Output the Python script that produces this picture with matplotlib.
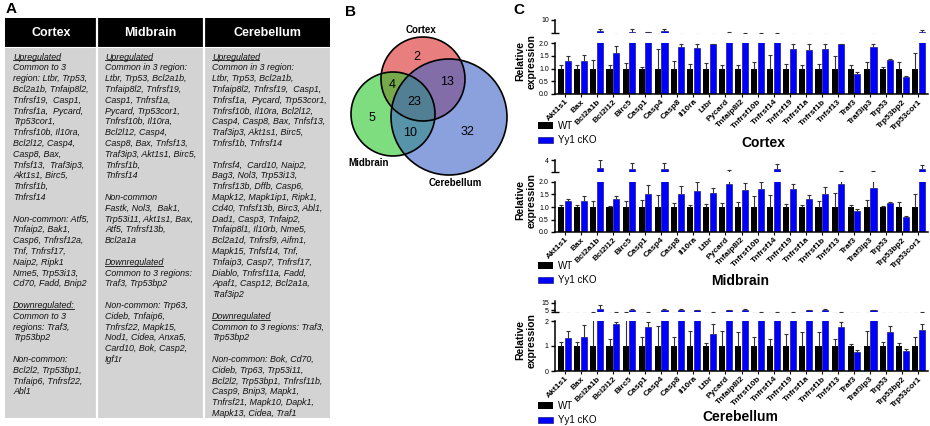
import numpy as np
import matplotlib
matplotlib.use('Agg')
import matplotlib.pyplot as plt
from matplotlib.patches import Circle, Rectangle, Patch

plt.rcParams['font.family'] = ['Liberation Sans', 'DejaVu Sans']

W, H = 930, 426

# ── Panel A: table text ──────────────────────────────────────────────────────
table_headers = ['Cortex', 'Midbrain', 'Cerebellum']

cortex_lines = [
    '_Upregulated', 'Common to 3', 'region: Ltbr, Trp53,', 'Bcl2a1b, Tnfaip8l2,',
    'Tnfrsf19,  Casp1,', 'Tnfrsf1a,  Pycard,', 'Trp53cor1,', 'Tnfrsf10b, Il10ra,',
    'Bcl2l12, Casp4,', 'Casp8, Bax,', 'Tnfsf13,  Traf3ip3,', 'Akt1s1, Birc5,',
    'Tnfrsf1b,', 'Tnfrsf14', '', 'Non-common: Atf5,', 'Tnfaip2, Bak1,',
    'Casp6, Tnfrsf12a,', 'Tnf, Tnfrsf17,', 'Naip2, Ripk1', 'Nme5, Trp53i13,',
    'Cd70, Fadd, Bnip2', '', '_Downregulated:', 'Common to 3', 'regions: Traf3,',
    'Trp53bp2', '', 'Non-common:', 'Bcl2l2, Trp53bp1,', 'Tnfaip6, Tnfrsf22,', 'Abl1',
]
midbrain_lines = [
    '_Upregulated', 'Common in 3 region:', 'Ltbr, Trp53, Bcl2a1b,', 'Tnfaip8l2, Tnfrsf19,',
    'Casp1, Tnfrsf1a,', 'Pycard, Trp53cor1,', 'Tnfrsf10b, Il10ra,', 'Bcl2l12, Casp4,',
    'Casp8, Bax, Tnfsf13,', 'Traf3ip3, Akt1s1, Birc5,', 'Tnfrsf1b,', 'Tnfrsf14', '',
    'Non-common', 'Fastk, Nol3,  Bak1,', 'Trp53i11, Akt1s1, Bax,', 'Atf5, Tnfrsf13b,',
    'Bcl2a1a', '', '_Downregulated', 'Common to 3 regions:', 'Traf3, Trp53bp2', '',
    'Non-common: Trp63,', 'Cideb, Tnfaip6,', 'Tnfrsf22, Mapk15,', 'Nod1, Cidea, Anxa5,',
    'Card10, Bok, Casp2,', 'Igf1r',
]
cerebellum_lines = [
    '_Upregulated', 'Common in 3 region:', 'Ltbr, Trp53, Bcl2a1b,',
    'Tnfaip8l2, Tnfrsf19,  Casp1,', 'Tnfrsf1a,  Pycard, Trp53cor1,',
    'Tnfrsf10b, Il10ra, Bcl2l12,', 'Casp4, Casp8, Bax, Tnfsf13,',
    'Traf3ip3, Akt1s1, Birc5,', 'Tnfrsf1b, Tnfrsf14', '',
    'Tnfrsf4,  Card10, Naip2,', 'Bag3, Nol3, Trp53i13,', 'Tnfrsf13b, Dffb, Casp6,',
    'Mapk12, Mapk1ip1, Ripk1,', 'Cd40, Tnfsf13b, Birc3, Abl1,', 'Dad1, Casp3, Tnfaip2,',
    'Tnfaip8l1, Il10rb, Nme5,', 'Bcl2a1d, Tnfrsf9, Aifm1,', 'Mapk15, Tnfsf14, Tnf,',
    'Tnfaip3, Casp7, Tnfrsf17,', 'Diablo, Tnfrsf11a, Fadd,', 'Apaf1, Casp12, Bcl2a1a,',
    'Traf3ip2', '', '_Downregulated', 'Common to 3 regions: Traf3,', 'Trp53bp2', '',
    'Non-common: Bok, Cd70,', 'Cideb, Trp63, Trp53i11,', 'Bcl2l2, Trp53bp1, Tnfrsf11b,',
    'Casp9, Bnip3, Mapk1,', 'Tnfrsf21, Mapk10, Dapk1,', 'Mapk13, Cidea, Traf1',
]

# ── Panel B: Venn counts ─────────────────────────────────────────────────────
venn_sets = ['Cortex', 'Midbrain', 'Cerebellum']
venn_regions = ['C', 'M', 'B', 'CM', 'CB', 'MB', 'CMB']
venn_counts = [2, 5, 32, 4, 13, 10, 23]

# ── Panel C: qPCR relative expression ────────────────────────────────────────
genes = ['Akt1s1', 'Bax', 'Bcl2a1b', 'Bcl2l12', 'Birc5', 'Casp1', 'Casp4', 'Casp8',
         'Il10ra', 'Ltbr', 'Pycard', 'Tnfaip8l2', 'Tnfrsf10b', 'Tnfrsf14', 'Tnfrsf19',
         'Tnfrsf1a', 'Tnfrsf1b', 'Tnfsf13', 'Traf3', 'Traf3ip3', 'Trp53', 'Trp53bp2',
         'Trp53cor1']

cortex_wt = [1.0, 1.0, 1.0, 1.0, 1.0, 1.0, 1.0, 1.0, 1.0, 1.0, 1.0, 1.0,
             1.0, 1.0, 1.0, 1.0, 1.0, 1.0, 1.0, 1.0, 1.0, 1.0, 1.0]
cortex_wt_top = [1.12, 1.12, 1.32, 1.12, 1.2, 1.05, 1.75, 1.28, 1.18, 1.22, 1.15, 1.15,
                 1.25, 1.52, 1.18, 1.15, 1.18, 1.5, 1.15, 1.25, 1.05, 1.25, 1.6]
cortex_ko = [1.28, 1.3, 3.5, 1.62, 2.9, 2.8, 3.5, 1.83, 1.8, 1.95, 2.6, 2.4,
             2.4, 2.4, 1.75, 1.72, 1.75, 1.97, 0.8, 1.85, 1.32, 0.67, 3.3]
cortex_ko_top = [1.48, 1.52, 4.6, 1.88, 4.6, 3.1, 4.8, 1.97, 1.97, 1.97, 2.9, 2.7,
                 2.7, 2.7, 1.97, 1.97, 1.97, 1.98, 0.88, 1.97, 1.37, 0.7, 4.2]

midbrain_wt = [1.0, 1.0, 1.0, 1.0, 1.0, 1.0, 1.0, 1.0, 1.0, 1.0, 1.0, 1.0,
               1.0, 1.0, 1.0, 1.0, 1.0, 1.0, 1.0, 1.0, 1.0, 1.0, 1.0]
midbrain_wt_top = [1.07, 1.08, 1.25, 1.05, 1.25, 1.28, 1.48, 1.15, 1.08, 1.12, 1.15, 1.2,
                   1.45, 1.48, 1.12, 1.08, 1.22, 1.55, 1.07, 1.28, 1.05, 1.2, 1.5]
midbrain_ko = [1.22, 1.25, 3.0, 1.3, 2.85, 1.5, 2.9, 1.5, 1.63, 1.55, 1.93, 1.67,
               1.7, 2.9, 1.72, 1.33, 1.5, 1.92, 0.85, 1.75, 1.17, 0.6, 2.85]
midbrain_ko_top = [1.32, 1.42, 4.0, 1.43, 3.65, 1.87, 3.65, 1.83, 1.98, 1.75, 2.7, 1.97,
                   1.98, 3.55, 1.9, 1.48, 1.8, 2.6, 0.92, 2.6, 1.2, 0.65, 3.4]

cerebellum_wt = [1.0, 1.0, 1.0, 1.0, 1.0, 1.0, 1.0, 1.0, 1.0, 1.0, 1.0, 1.0,
                 1.0, 1.0, 1.0, 1.0, 1.0, 1.0, 1.0, 1.0, 1.0, 1.0, 1.0]
cerebellum_wt_top = [1.15, 1.15, 2.3, 1.3, 2.4, 1.35, 1.8, 1.38, 1.62, 1.12, 1.62, 1.55,
                     1.35, 1.3, 1.5, 1.55, 1.58, 1.27, 1.07, 1.62, 1.18, 1.12, 1.35]
cerebellum_ko = [1.32, 1.38, 6.5, 1.9, 5.5, 1.78, 5.5, 5.0, 5.0, 1.5, 5.0, 5.5,
                 3.0, 3.0, 3.0, 5.0, 5.5, 1.75, 0.78, 5.0, 1.57, 0.8, 1.65]
cerebellum_ko_top = [1.6, 1.83, 11.5, 1.98, 6.5, 1.98, 6.8, 5.8, 5.0, 1.9, 5.0, 6.5,
                     3.0, 3.0, 3.0, 5.0, 6.8, 1.98, 0.83, 5.0, 1.82, 0.88, 1.9]


def fr(x0, y0, x1, y1):
    return [x0 / W, 1 - y1 / H, (x1 - x0) / W, (y1 - y0) / H]


fig = plt.figure(figsize=(W / 100, H / 100), dpi=100)

# overlay axes in pixel coordinates for panels A and B
ax0 = fig.add_axes([0, 0, 1, 1])
ax0.set_xlim(0, W)
ax0.set_ylim(H, 0)
ax0.axis('off')

# ── Panel A ──────────────────────────────────────────────────────────────────
ax0.text(6, 9, 'A', fontsize=11, fontweight='bold', va='center')
col_edges = [5, 97, 204, 330]
ax0.add_patch(Rectangle((5, 18), 325, 29, color='black', lw=0))
ax0.add_patch(Rectangle((5, 47), 325, 371, color='#d3d3d3', lw=0))
for xe in col_edges[1:-1]:
    ax0.plot([xe, xe], [18, 418], color='white', lw=1.6)
ax0.plot([5, 330], [47, 47], color='white', lw=0.8)

underlined = []
for i, (hdr, lines) in enumerate(zip(table_headers,
                                     [cortex_lines, midbrain_lines, cerebellum_lines])):
    xc = (col_edges[i] + col_edges[i + 1]) / 2
    ax0.text(xc, 33, hdr, color='white', fontsize=9, fontweight='bold',
             ha='center', va='center')
    for j, line in enumerate(lines):
        if not line:
            continue
        ul = line.startswith('_')
        t = ax0.text(col_edges[i] + 8, 57 + j * 10.8, line.lstrip('_'),
                     fontsize=6.4, style='italic', va='center', color='#111111')
        if ul:
            underlined.append(t)

# ── Panel B ──────────────────────────────────────────────────────────────────
ax0.text(345, 12, 'B', fontsize=11, fontweight='bold', va='center')
circ = [((423, 79), 42, (0.86, 0.16, 0.16)),
        ((393, 114), 42, (0.16, 0.78, 0.16)),
        ((449, 117), 58, (0.24, 0.39, 0.78))]
for (c, r, col) in circ:
    ax0.add_patch(Circle(c, r, facecolor=col, alpha=0.6, lw=0))
for (c, r, col) in circ:
    ax0.add_patch(Circle(c, r, fill=False, edgecolor='black', lw=1.2))
venn_pos = {'C': (417, 57), 'M': (372, 118), 'B': (467, 132), 'CM': (392, 85),
            'CB': (447, 82), 'MB': (410, 133), 'CMB': (414, 102)}
for reg, n in zip(venn_regions, venn_counts):
    px, py = venn_pos[reg]
    ax0.text(px, py, str(n), fontsize=9, ha='center', va='center')
for name, (px, py) in zip(venn_sets, [(421, 30), (369, 163), (455, 183)]):
    ax0.text(px, py, name, fontsize=7, fontweight='bold', ha='center', va='center')

# ── Panel C ──────────────────────────────────────────────────────────────────
fig.text(513 / W, 1 - 10 / H, 'C', fontsize=11, fontweight='bold', va='center')


def draw_region(rows, up_lim, up_ticks, lo_ticks, lo_labels, wt, wt_top, ko, ko_top,
                title, title_xy, leg_y):
    top, brk, lo_top, lo_bot = rows
    x = np.arange(len(genes))
    wt, wt_top = np.array(wt), np.array(wt_top)
    ko, ko_top = np.array(ko), np.array(ko_top)
    ax_u = fig.add_axes(fr(555, top, 928, brk))
    ax_l = fig.add_axes(fr(555, lo_top, 928, lo_bot))
    for ax in (ax_u, ax_l):
        ax.bar(x - 0.21, wt, 0.38, color='black', zorder=2)
        ax.bar(x + 0.21, ko, 0.38, color='#0000ff', edgecolor='#000070',
               linewidth=0.4, zorder=2)
        ax.vlines(x - 0.21, wt, wt_top, color='#333333', lw=0.8, zorder=3)
        ax.vlines(x + 0.21, ko, ko_top, color='#333333', lw=0.8, zorder=3)
        ax.plot(x - 0.21, wt_top, ls='none', marker='_', ms=2.5, mew=0.8,
                color='#333333', zorder=3)
        ax.plot(x + 0.21, ko_top, ls='none', marker='_', ms=2.5, mew=0.8,
                color='#333333', zorder=3)
        ax.set_xlim(-0.6, len(genes) - 0.4)
        ax.patch.set_visible(False)
        for s in ('top', 'right'):
            ax.spines[s].set_visible(False)
        ax.spines['left'].set_linewidth(1.1)
        ax.spines['bottom'].set_linewidth(1.1)
        ax.tick_params(axis='y', labelsize=5, length=3, width=1, pad=1.5)

    ax_u.set_ylim(*up_lim)
    ax_u.set_yticks(up_ticks)
    ax_u.set_yticks([up_lim[0]], minor=True)
    ax_u.tick_params(axis='y', which='minor', direction='inout', length=6, width=1)
    ax_u.spines['bottom'].set_visible(False)
    ax_u.set_xticks([])

    ax_l.set_ylim(0, lo_ticks[-1])
    ax_l.set_yticks(lo_ticks)
    ax_l.set_yticklabels(lo_labels)
    ax_l.set_yticks([lo_ticks[-1]], minor=True)
    ax_l.tick_params(axis='y', which='minor', direction='in', length=3, width=1)
    ax_l.set_xticks(x)
    ax_l.set_xticklabels(genes, rotation=45, ha='right', rotation_mode='anchor',
                         fontsize=6, fontweight='bold')
    ax_l.tick_params(axis='x', length=2, width=0.8, pad=1)

    fig.text(526 / W, 1 - (top + lo_bot) / 2 / H - 0.01, 'Relative\nexpression',
             rotation=90, ha='center', va='center', fontsize=7.5,
             fontweight='bold', linespacing=1.1)
    fig.text(title_xy[0] / W, 1 - title_xy[1] / H, title, ha='center', va='center',
             fontsize=10, fontweight='bold')
    handles = [Patch(facecolor='black', label='WT'),
               Patch(facecolor='#0000ff', edgecolor='#000070', lw=0.4, label='Yy1 cKO')]
    fig.legend(handles=handles, loc='upper left',
               bbox_to_anchor=(538 / W, 1 - leg_y / H), frameon=False, fontsize=7,
               handlelength=1.5, handleheight=0.6, labelspacing=0.45, borderpad=0,
               borderaxespad=0, handletextpad=0.6)


draw_region((20, 33, 43, 94), (2.5, 10), [10], [0, 0.5, 1.0, 1.5, 2.0],
            ['0.0', '0.5', '1.0', '1.5', '2.0'],
            cortex_wt, cortex_wt_top, cortex_ko, cortex_ko_top,
            'Cortex', (763, 143), 121)
draw_region((160, 172, 182, 232), (2.5, 4), [4], [0, 0.5, 1.0, 1.5, 2.0],
            ['0.0', '0.5', '1.0', '1.5', '2.0'],
            midbrain_wt, midbrain_wt_top, midbrain_ko, midbrain_ko_top,
            'Midbrain', (740, 281), 261)
draw_region((301, 312, 321, 371), (2.5, 17), [5, 15], [0, 1, 2], ['0', '1', '2'],
            cerebellum_wt, cerebellum_wt_top, cerebellum_ko, cerebellum_ko_top,
            'Cerebellum', (740, 417), 401)

# underline "Upregulated"/"Downregulated" headings in the table
fig.canvas.draw()
inv = ax0.transData.inverted()
for t in underlined:
    bb = t.get_window_extent()
    (ux0, uy), (ux1, _) = inv.transform([(bb.x0, bb.y0), (bb.x1, bb.y0)])
    ax0.plot([ux0, ux1 - 1], [uy - 1.2, uy - 1.2], color='#111111', lw=0.6)

fig.savefig('out.png', dpi=100)
